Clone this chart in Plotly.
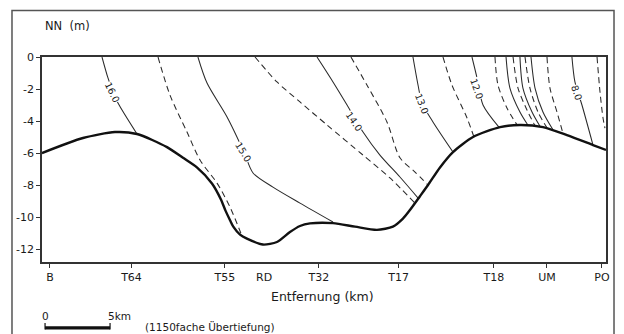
import plotly.graph_objects as go

# Stations along the section (distance in km from B)
stations = ["B", "T64", "T55", "RD", "T32", "T17", "T18", "UM", "PO"]
station_km = [0.0, 6.27, 13.46, 16.46, 20.69, 26.81, 34.15, 38.23, 42.46]
ticked_stations = ["B", "T64", "T55", "T32", "T17", "T18", "UM", "PO"]

depth_ticks = [0, -2, -4, -6, -8, -10, -12]
depth_ticktext = ["0", "-2", "-4", "-6", "-8", "-10", "-12"]

# Bottom profile (km, m NN)
bed_km = [-0.62, 2.54, 5.0, 6.69, 9.0, 10.23, 11.3, 12.46, 13.15, 13.5, 13.85, 14.1,
          14.62, 15.15, 16.38, 17.46, 18.46, 19.23, 20.0, 21.77, 23.46, 25.15, 26.38,
          27.15, 27.69, 28.46, 29.08, 30.0, 31.0, 32.54, 34.62, 36.15, 37.92,
          39.77, 41.77, 42.77]
bed_m = [-6.0, -5.06, -4.69, -4.81, -5.63, -6.3, -6.9, -7.9, -8.9, -9.6, -10.2, -10.6,
         -11.1, -11.35, -11.72, -11.56, -10.94, -10.56, -10.4, -10.38, -10.6, -10.8, -10.6,
         -10.1, -9.56, -8.7, -8.0, -6.9, -5.94, -5.0, -4.38, -4.25, -4.38,
         -4.88, -5.5, -5.81]

# Isolines (value, km, m NN); half values are drawn dashed
iso_levels = [16.0, 15.5, 15.0, 14.5, 14.0, 13.5, 13.0, 12.5, 12.0,
              11.5, 11.0, 10.5, 10.0, 9.5, 9.0, 8.5, 8.0, 7.5]
iso_km = [
    [4.0, 4.46, 4.85, 5.23, 6.69],
    [8.31, 9.23, 10.54, 11.54, 12.85, 13.85, 14.75],
    [11.38, 12.08, 13.62, 14.92, 15.62, 17.15, 19.23, 21.77],
    [15.77, 17.46, 19.23, 21.31, 24.08, 26.15, 28.08],
    [20.54, 21.77, 22.85, 24.08, 25.38, 26.92, 28.35],
    [23.15, 24.38, 25.92, 26.92, 28.08, 29.08],
    [27.92, 28.31, 28.62, 29.46, 31.0],
    [30.23, 30.92, 32.08, 32.6],
    [32.46, 32.85, 33.31, 34.55],
    [34.23, 34.46, 35.15, 35.95],
    [35.08, 35.38, 36.15, 36.77],
    [35.62, 36.0, 36.69, 37.31],
    [36.15, 36.38, 37.08, 37.69],
    [36.54, 36.92, 37.54, 38.23],
    [37.0, 37.31, 37.92, 38.69],
    [38.23, 38.46, 39.0, 39.46],
    [40.15, 40.38, 40.92, 41.77],
    [42.08, 42.31, 42.54, 42.69],
]
iso_m = [
    [0, -1.31, -2.19, -2.88, -4.81],
    [0, -2.38, -4.69, -6.44, -7.88, -9.38, -11.15],
    [0, -1.63, -3.75, -5.94, -7.25, -8.13, -9.13, -10.31],
    [0, -1.56, -2.81, -4.25, -6.13, -7.56, -9.13],
    [0, -1.56, -3.0, -4.69, -6.13, -7.5, -8.85],
    [0, -1.75, -4.06, -6.3, -7.19, -8.0],
    [0, -1.75, -2.88, -4.06, -5.94],
    [0, -1.75, -3.81, -4.97],
    [0, -1.31, -3.0, -4.4],
    [0, -1.75, -3.19, -4.27],
    [0, -1.94, -3.44, -4.27],
    [0, -1.94, -3.31, -4.3],
    [0, -1.94, -3.44, -4.33],
    [0, -1.94, -3.44, -4.42],
    [0, -1.94, -3.44, -4.55],
    [0, -1.94, -3.44, -4.78],
    [0, -1.56, -3.0, -5.5],
    [0, -2.19, -3.81, -4.44],
]

# Inline isoline labels
label_text = ["16.0", "15.0", "14.0", "13.0", "12.0", "8.0"]
label_km = [4.82, 14.92, 23.38, 28.62, 32.85, 40.54]
label_m = [-2.2, -5.94, -4.06, -2.88, -1.94, -2.19]
label_angle = [64, 58, 55, 68, 70, 72]

FONT = "DejaVu Sans, Arial, sans-serif"
INK = "#1a1a1a"

fig = go.Figure()

for lvl, xs, ys in zip(iso_levels, iso_km, iso_m):
    dashed = (lvl * 2) % 2 == 1
    fig.add_trace(go.Scatter(
        x=xs, y=ys, mode="lines", hoverinfo="skip", showlegend=False,
        line=dict(color="#2a2a2a", width=1.05, dash="6px,4px" if dashed else "solid",
                  shape="spline", smoothing=0.8),
    ))

fig.add_trace(go.Scatter(
    x=bed_km, y=bed_m, mode="lines", hoverinfo="skip", showlegend=False,
    line=dict(color="#111111", width=2.4, shape="spline", smoothing=0.7),
))

annotations = []
for t, x, y, a in zip(label_text, label_km, label_m, label_angle):
    annotations.append(dict(
        x=x, y=y, xref="x", yref="y", text=t, showarrow=False, textangle=a,
        font=dict(family=FONT, size=9.5, color=INK), bgcolor="white", borderpad=0,
    ))

# RD carries a label but no tick mark
annotations.append(dict(
    x=station_km[stations.index("RD")], y=-0.075, xref="x", yref="paper",
    text="RD", showarrow=False, yanchor="middle",
    font=dict(family=FONT, size=11, color=INK),
))

annotations += [
    dict(x=0.002, y=1.151, xref="paper", yref="paper", text="NN  (m)", showarrow=False,
         xanchor="left", yanchor="middle", font=dict(family=FONT, size=11.5, color=INK)),
    dict(x=0.498, y=-0.166, xref="paper", yref="paper", text="Entfernung (km)",
         showarrow=False, xanchor="center", yanchor="middle",
         font=dict(family=FONT, size=12.5, color=INK)),
    dict(x=-0.35, y=-0.263, xref="x", yref="paper", text="0", showarrow=False,
         xanchor="center", yanchor="middle", font=dict(family=FONT, size=10.5, color=INK)),
    dict(x=4.3, y=-0.263, xref="x", yref="paper", text="5km", showarrow=False,
         xanchor="left", yanchor="middle", font=dict(family=FONT, size=10.5, color=INK)),
    dict(x=0.179, y=-0.317, xref="paper", yref="paper", text="(1150fache Übertiefung)",
         showarrow=False, xanchor="left", yanchor="middle",
         font=dict(family=FONT, size=10.5, color=INK)),
]

shapes = [
    # outer frame
    dict(type="rect", xref="paper", yref="paper", x0=-0.0532, x1=1.0142, y0=-0.40, y1=1.2268,
         line=dict(color="#555555", width=1.5), fillcolor="rgba(0,0,0,0)", layer="below"),
    # scale bar (5 km)
    dict(type="rect", xref="x", yref="paper", x0=-0.38, x1=4.62, y0=-0.329, y1=-0.313,
         line=dict(width=0), fillcolor="#111111"),
    dict(type="line", xref="x", yref="paper", x0=-0.38, x1=-0.38, y0=-0.329, y1=-0.298,
         line=dict(color="#111111", width=1.2)),
    dict(type="line", xref="x", yref="paper", x0=4.62, x1=4.62, y0=-0.329, y1=-0.298,
         line=dict(color="#111111", width=1.2)),
]

tick_vals = [station_km[stations.index(s)] for s in ticked_stations]

fig.update_layout(
    width=624, height=334, autosize=False,
    margin=dict(l=42, r=18, t=57, b=72),
    paper_bgcolor="white", plot_bgcolor="white",
    showlegend=False,
    annotations=annotations, shapes=shapes,
    xaxis=dict(
        range=[-0.615, 42.77], showgrid=False, zeroline=False,
        showline=True, linecolor="#333333", linewidth=1.5, mirror=True,
        ticks="outside", ticklen=4, tickwidth=1, tickcolor="#333333",
        tickvals=tick_vals, ticktext=ticked_stations,
        tickfont=dict(family=FONT, size=11, color=INK),
    ),
    yaxis=dict(
        range=[-12.81, 0], showgrid=False, zeroline=False,
        showline=True, linecolor="#333333", linewidth=1.5, mirror=True,
        ticks="outside", ticklen=4, tickwidth=1, tickcolor="#333333",
        tickvals=depth_ticks, ticktext=depth_ticktext,
        tickfont=dict(family=FONT, size=11, color=INK),
    ),
)

fig.write_html("out.html")
